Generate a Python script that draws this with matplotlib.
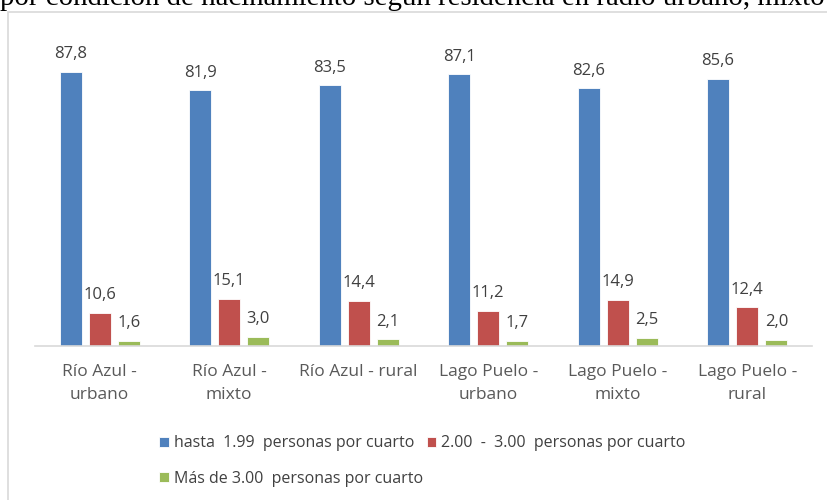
import numpy as np
import matplotlib.pyplot as plt
from matplotlib.patches import Rectangle

# data
categories = ["Río Azul -\nurbano", "Río Azul -\nmixto", "Río Azul - rural",
              "Lago Puelo -\nurbano", "Lago Puelo -\nmixto", "Lago Puelo -\nrural"]
hasta_199 = [87.8, 81.9, 83.5, 87.1, 82.6, 85.6]
entre_200_300 = [10.6, 15.1, 14.4, 11.2, 14.9, 12.4]
mas_300 = [1.6, 3.0, 2.1, 1.7, 2.5, 2.0]
series_names = ["hasta  1.99  personas por cuarto",
                "2.00  -  3.00  personas por cuarto",
                "Más de 3.00  personas por cuarto"]
colors = ["#4F81BD", "#C0504D", "#9BBB59"]

plt.rcParams['font.family'] = ['Open Sans', 'DejaVu Sans']

fig = plt.figure(figsize=(8.28, 5.0), dpi=100)

# light frame around the chart area (original is a cropped screenshot)
fig.patches.append(Rectangle((8 / 828, -0.1), 1.0, 1 - 12 / 500 + 0.1,
                             transform=fig.transFigure, fill=False,
                             edgecolor="#D9D9D9", linewidth=1.2))

# cut-off caption line at the very top
fig.text(0.0, 1 - 5 / 500,
         "por condición de hacinamiento según residencia en radio urbano, mixto y rural",
         family="Liberation Serif", fontsize=20.8, va="baseline", ha="left", color="black")

ax = fig.add_axes([35 / 828, 1 - 346 / 500, 777 / 828, 312 / 500])

x = np.arange(len(categories))
width = 0.17
offsets = [-0.225, 0.0, 0.225]
all_series = [hasta_199, entre_200_300, mas_300]
bars = []
for vals, off, col, name in zip(all_series, offsets, colors, series_names):
    b = ax.bar(x + off, vals, width, color=col, edgecolor="white", linewidth=0.6, label=name)
    bars.append(b)
    for xi, v in zip(x + off, vals):
        ax.annotate(f"{v:.1f}".replace(".", ","), (xi, v), xytext=(0, 7),
                    textcoords="offset points", ha="center", va="bottom",
                    fontsize=12, color="#404040")

ax.set_xlim(-0.5, len(categories) - 0.5)
ax.set_ylim(0, 100)
ax.set_xticks(x)
ax.set_xticklabels(categories, fontsize=12.5, color="#595959", linespacing=1.6)
ax.tick_params(axis="x", length=0, pad=13)
ax.set_yticks([])
for side in ["top", "left", "right"]:
    ax.spines[side].set_visible(False)
ax.spines["bottom"].set_color("#D9D9D9")
ax.spines["bottom"].set_linewidth(1.2)

# legend: two entries on first row, one on the second
handles = [bars[0], bars[2], bars[1]]
labels = [series_names[0], series_names[2], series_names[1]]
fig.legend(handles, labels, ncol=2, loc="upper left",
           bbox_to_anchor=(145 / 828, 1 - 421 / 500), frameon=False,
           fontsize=11.5, labelcolor="#404040", handlelength=0.6, handleheight=0.6,
           handletextpad=0.3, columnspacing=0.25, labelspacing=1.2)

fig.savefig("out.png", dpi=100)
